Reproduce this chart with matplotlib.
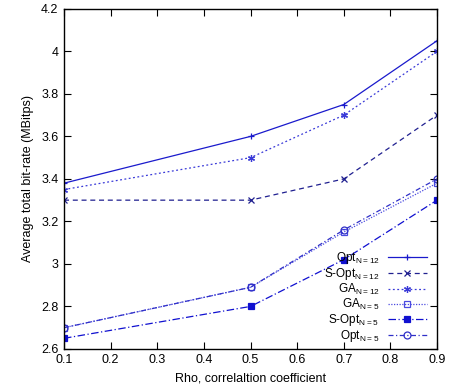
import matplotlib
matplotlib.use("Agg")
import matplotlib.pyplot as plt

plt.rcParams['font.family'] = ['Liberation Sans', 'DejaVu Sans']

rho = [0.1, 0.5, 0.7, 0.9]
opt_n12 = [3.38, 3.60, 3.75, 4.05]
sopt_n12 = [3.30, 3.30, 3.40, 3.70]
ga_n12 = [3.35, 3.50, 3.70, 4.00]
ga_n5 = [2.70, 2.89, 3.15, 3.38]
sopt_n5 = [2.65, 2.80, 3.02, 3.30]
opt_n5 = [2.70, 2.89, 3.16, 3.40]

series = [
    (opt_n12, r"Opt$_{\mathregular{N=12}}$", "-", "+", "#1a1acc", "none"),
    (sopt_n12, r"S-Opt$_{\mathregular{N=12}}$", (0, (4, 3)), "x", "#202090", "none"),
    (ga_n12, r"GA$_{\mathregular{N=12}}$", (0, (1.5, 2)), (6, 2, 0), "#3a3ad8", "none"),
    (ga_n5, r"GA$_{\mathregular{N=5}}$", (0, (1, 1.2)), "s", "#4a4ae0", "none"),
    (sopt_n5, r"S-Opt$_{\mathregular{N=5}}$", (0, (6, 2, 1, 2)), "s", "#1010d0", "#1010d0"),
    (opt_n5, r"Opt$_{\mathregular{N=5}}$", (0, (4, 2, 1, 2)), "o", "#3030c8", "none"),
]

fig = plt.figure(figsize=(4.51, 3.86), dpi=100)
ax = fig.add_axes([0.142, 0.096, 0.827, 0.881])

for ys, label, ls, mk, col, fc in series:
    ax.plot(rho, ys, linestyle=ls, marker=mk, color=col, markerfacecolor=fc,
            markersize=5, linewidth=0.9, markeredgewidth=0.9, label=label)

ax.set_xlim(0.1, 0.9)
ax.set_ylim(2.6, 4.2)
ax.set_xticks([0.1, 0.2, 0.3, 0.4, 0.5, 0.6, 0.7, 0.8, 0.9])
ax.set_xticklabels(["0.1", "0.2", "0.3", "0.4", "0.5", "0.6", "0.7", "0.8", "0.9"])
ax.set_yticks([2.6, 2.8, 3.0, 3.2, 3.4, 3.6, 3.8, 4.0, 4.2])
ax.set_yticklabels(["2.6", "2.8", "3", "3.2", "3.4", "3.6", "3.8", "4", "4.2"])
ax.tick_params(direction="in", top=True, right=True, labelsize=9, length=5, pad=4)
for s in ax.spines.values():
    s.set_linewidth(1.0)

ax.set_xlabel("Rho, correlaltion coefficient", fontsize=9, labelpad=4)
ax.set_ylabel("Average total bit-rate (MBitps)", fontsize=9, labelpad=5)

leg = ax.legend(loc="lower right", markerfirst=False, frameon=False, fontsize=8.5,
                handlelength=3.3, labelspacing=0.0, borderaxespad=0.2,
                borderpad=0.2, handletextpad=0.7, bbox_to_anchor=(0.985, 0.0))
for t in leg.get_texts():
    t.set_ha("right")

plt.savefig("out.png", dpi=100)
